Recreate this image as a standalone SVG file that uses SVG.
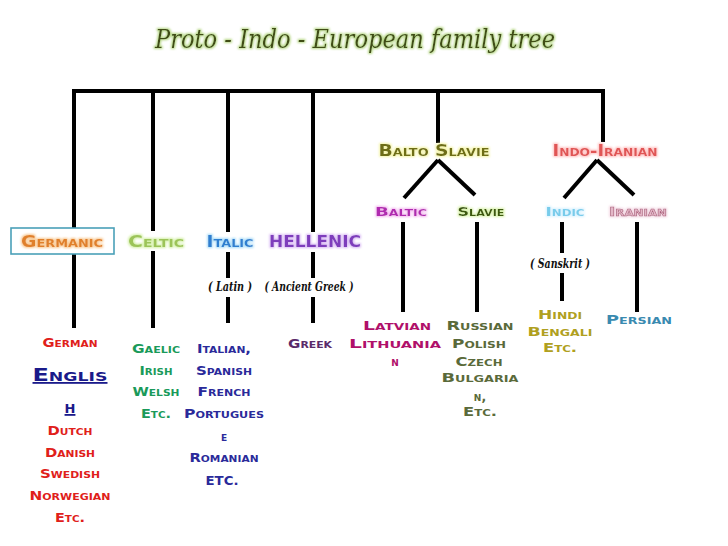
<svg xmlns="http://www.w3.org/2000/svg" width="728" height="546" viewBox="0 0 728 546">
<defs>
<style>
.sc{font-family:"DejaVu Sans","Liberation Sans",sans-serif;font-weight:bold;font-variant:small-caps;text-anchor:middle}
.hd{font-size:16px}
.sm{font-size:13px}
.ls{font-size:12.5px}
.scr{font-family:"DejaVu Serif","Liberation Serif",serif;font-style:italic;font-weight:bold;font-size:12px;text-anchor:middle;fill:#111}
.ln{stroke:#000;stroke-width:4;fill:none;stroke-linecap:butt}
</style>
<filter id="gOr" x="-20%" y="-50%" width="140%" height="200%"><feMorphology in="SourceAlpha" operator="dilate" radius="1"/><feGaussianBlur stdDeviation="1.3" result="b"/><feFlood flood-color="#f8c890"/><feComposite in2="b" operator="in" result="g"/><feMerge><feMergeNode in="g"/><feMergeNode in="SourceGraphic"/></feMerge></filter>
<filter id="gCe" x="-20%" y="-50%" width="140%" height="200%"><feMorphology in="SourceAlpha" operator="dilate" radius="1"/><feGaussianBlur stdDeviation="1.3" result="b"/><feFlood flood-color="#d4f0a8"/><feComposite in2="b" operator="in" result="g"/><feMerge><feMergeNode in="g"/><feMergeNode in="SourceGraphic"/></feMerge></filter>
<filter id="gIt" x="-20%" y="-50%" width="140%" height="200%"><feMorphology in="SourceAlpha" operator="dilate" radius="1"/><feGaussianBlur stdDeviation="1.3" result="b"/><feFlood flood-color="#a8dcf8"/><feComposite in2="b" operator="in" result="g"/><feMerge><feMergeNode in="g"/><feMergeNode in="SourceGraphic"/></feMerge></filter>
<filter id="gHe" x="-20%" y="-50%" width="140%" height="200%"><feMorphology in="SourceAlpha" operator="dilate" radius="1"/><feGaussianBlur stdDeviation="1.3" result="b"/><feFlood flood-color="#d8b8f4"/><feComposite in2="b" operator="in" result="g"/><feMerge><feMergeNode in="g"/><feMergeNode in="SourceGraphic"/></feMerge></filter>
<filter id="gBs" x="-20%" y="-50%" width="140%" height="200%"><feMorphology in="SourceAlpha" operator="dilate" radius="1"/><feGaussianBlur stdDeviation="1.3" result="b"/><feFlood flood-color="#f4f4a8"/><feComposite in2="b" operator="in" result="g"/><feMerge><feMergeNode in="g"/><feMergeNode in="SourceGraphic"/></feMerge></filter>
<filter id="gIi" x="-20%" y="-50%" width="140%" height="200%"><feMorphology in="SourceAlpha" operator="dilate" radius="1"/><feGaussianBlur stdDeviation="1.3" result="b"/><feFlood flood-color="#ffc0c0"/><feComposite in2="b" operator="in" result="g"/><feMerge><feMergeNode in="g"/><feMergeNode in="SourceGraphic"/></feMerge></filter>
<filter id="gBa" x="-20%" y="-50%" width="140%" height="200%"><feMorphology in="SourceAlpha" operator="dilate" radius="1"/><feGaussianBlur stdDeviation="1.3" result="b"/><feFlood flood-color="#f4b8f0"/><feComposite in2="b" operator="in" result="g"/><feMerge><feMergeNode in="g"/><feMergeNode in="SourceGraphic"/></feMerge></filter>
<filter id="gSl" x="-20%" y="-50%" width="140%" height="200%"><feMorphology in="SourceAlpha" operator="dilate" radius="1"/><feGaussianBlur stdDeviation="1.3" result="b"/><feFlood flood-color="#dcf4b0"/><feComposite in2="b" operator="in" result="g"/><feMerge><feMergeNode in="g"/><feMergeNode in="SourceGraphic"/></feMerge></filter>
<filter id="gIn" x="-20%" y="-50%" width="140%" height="200%"><feMorphology in="SourceAlpha" operator="dilate" radius="1"/><feGaussianBlur stdDeviation="1.3" result="b"/><feFlood flood-color="#d8f2ff"/><feComposite in2="b" operator="in" result="g"/><feMerge><feMergeNode in="g"/><feMergeNode in="SourceGraphic"/></feMerge></filter>
<filter id="gIr" x="-20%" y="-50%" width="140%" height="200%"><feMorphology in="SourceAlpha" operator="dilate" radius="1"/><feGaussianBlur stdDeviation="1.3" result="b"/><feFlood flood-color="#f4d8e4"/><feComposite in2="b" operator="in" result="g"/><feMerge><feMergeNode in="g"/><feMergeNode in="SourceGraphic"/></feMerge></filter>
<filter id="tsh" x="-10%" y="-50%" width="120%" height="200%"><feMorphology in="SourceAlpha" operator="dilate" radius="1"/><feGaussianBlur stdDeviation="1" result="b"/><feFlood flood-color="#b8d888"/><feComposite in2="b" operator="in" result="g"/><feMerge><feMergeNode in="g"/><feMergeNode in="SourceGraphic"/></feMerge></filter>
</defs>
<rect width="728" height="546" fill="#fff"/>

<g id="title">
<text x="355" y="48" font-family="DejaVu Serif, Liberation Serif, serif" font-style="italic" font-size="26" fill="#3f4d12" text-anchor="middle" textLength="400" lengthAdjust="spacingAndGlyphs" filter="url(#tsh)">Proto - Indo - European family tree</text>
</g>

<g id="connectors">
<line class="ln" x1="72" y1="91" x2="605" y2="91" stroke-width="5"/>
<line class="ln" x1="74" y1="91" x2="74" y2="228"/>
<line class="ln" x1="74" y1="254" x2="74" y2="328"/>
<line class="ln" x1="153" y1="91" x2="153" y2="231"/>
<line class="ln" x1="153" y1="251" x2="153" y2="328"/>
<line class="ln" x1="228" y1="91" x2="228" y2="232"/>
<line class="ln" x1="228" y1="252" x2="228" y2="278"/>
<line class="ln" x1="228" y1="297" x2="228" y2="323"/>
<line class="ln" x1="313" y1="91" x2="313" y2="232"/>
<line class="ln" x1="313" y1="252" x2="313" y2="278"/>
<line class="ln" x1="313" y1="297" x2="313" y2="323"/>
<line class="ln" x1="438" y1="91" x2="438" y2="143"/>
<line class="ln" x1="438" y1="160" x2="404" y2="198"/>
<line class="ln" x1="438" y1="160" x2="475" y2="195"/>
<line class="ln" x1="403" y1="222" x2="403" y2="312"/>
<line class="ln" x1="477" y1="222" x2="477" y2="312"/>
<line class="ln" x1="603" y1="91" x2="603" y2="142"/>
<line class="ln" x1="597" y1="160" x2="564" y2="198"/>
<line class="ln" x1="597" y1="160" x2="634" y2="195"/>
<line class="ln" x1="562" y1="222" x2="562" y2="253"/>
<line class="ln" x1="562" y1="273" x2="562" y2="301"/>
<line class="ln" x1="637" y1="222" x2="637" y2="312"/>
</g>

<g id="node-germanic">
<rect x="11" y="228" width="103" height="26" fill="#fff" stroke="#4aa0b8" stroke-width="1.6"/>
<text class="sc hd" x="62" y="247" fill="#e0802a" textLength="82" lengthAdjust="spacingAndGlyphs" filter="url(#gOr)">Germanic</text>
</g>
<g id="node-celtic"><text class="sc hd" x="156" y="247" fill="#9cc458" textLength="56" lengthAdjust="spacingAndGlyphs" filter="url(#gCe)">Celtic</text></g>
<g id="node-italic"><text class="sc hd" x="230" y="247" fill="#2f7fd0" textLength="47" lengthAdjust="spacingAndGlyphs" filter="url(#gIt)">Italic</text></g>
<g id="node-hellenic"><text class="sc" x="315" y="247" font-size="15" fill="#7e3cbc" textLength="92" lengthAdjust="spacingAndGlyphs" filter="url(#gHe)">HELLENIC</text></g>
<g id="node-balto-slavie"><text class="sc hd" x="434" y="156" fill="#6e6e16" textLength="111" lengthAdjust="spacingAndGlyphs" filter="url(#gBs)">Balto Slavie</text></g>
<g id="node-indo-iranian"><text class="sc hd" x="605" y="156" fill="#e05454" textLength="105" lengthAdjust="spacingAndGlyphs" filter="url(#gIi)">Indo-Iranian</text></g>
<g id="node-baltic"><text class="sc sm" x="401" y="216" fill="#b02cb0" textLength="52" lengthAdjust="spacingAndGlyphs" filter="url(#gBa)">Baltic</text></g>
<g id="node-slavie"><text class="sc sm" x="481" y="216" fill="#3e5a10" textLength="47" lengthAdjust="spacingAndGlyphs" filter="url(#gSl)">Slavie</text></g>
<g id="node-indic"><text class="sc sm" x="565" y="216" fill="#78cceb" textLength="39" lengthAdjust="spacingAndGlyphs" filter="url(#gIn)">Indic</text></g>
<g id="node-iranian"><text class="sc sm" x="638" y="216" fill="#e4b8c8" stroke="#a85c78" stroke-width="0.5" textLength="58" lengthAdjust="spacingAndGlyphs" filter="url(#gIr)">Iranian</text></g>

<g id="note-latin"><text class="scr" x="230" y="291" textLength="44" lengthAdjust="spacingAndGlyphs">( Latin )</text></g>
<g id="note-ancient-greek"><text class="scr" x="309" y="291" textLength="89" lengthAdjust="spacingAndGlyphs">( Ancient Greek )</text></g>
<g id="note-sanskrit"><text class="scr" x="560" y="268" textLength="60" lengthAdjust="spacingAndGlyphs">( Sanskrit )</text></g>

<g id="list-germanic" fill="#e0201a">
<text class="sc ls" x="70" y="347" textLength="55" lengthAdjust="spacingAndGlyphs">German</text>
<text class="sc" x="70" y="381" font-size="18" fill="#1a1a8a" text-decoration="underline" textLength="75" lengthAdjust="spacingAndGlyphs">Englis</text>
<text class="sc" x="70" y="413" font-size="18" fill="#1a1a8a" text-decoration="underline">h</text>
<text class="sc ls" x="70" y="435" textLength="45" lengthAdjust="spacingAndGlyphs">Dutch</text>
<text class="sc ls" x="70" y="457" textLength="50" lengthAdjust="spacingAndGlyphs">Danish</text>
<text class="sc ls" x="70" y="478" textLength="60" lengthAdjust="spacingAndGlyphs">Swedish</text>
<text class="sc ls" x="70" y="500" textLength="81" lengthAdjust="spacingAndGlyphs">Norwegian</text>
<text class="sc ls" x="70" y="522" textLength="30" lengthAdjust="spacingAndGlyphs">Etc.</text>
</g>
<g id="list-celtic" fill="#1a9a5a">
<text class="sc ls" x="156" y="353" textLength="48" lengthAdjust="spacingAndGlyphs">Gaelic</text>
<text class="sc ls" x="156" y="375" textLength="33" lengthAdjust="spacingAndGlyphs">Irish</text>
<text class="sc ls" x="156" y="396" textLength="47" lengthAdjust="spacingAndGlyphs">Welsh</text>
<text class="sc ls" x="156" y="418" textLength="30" lengthAdjust="spacingAndGlyphs">Etc.</text>
</g>
<g id="list-italic" fill="#2a2a9a">
<text class="sc ls" x="224" y="353" textLength="54" lengthAdjust="spacingAndGlyphs">Italian,</text>
<text class="sc ls" x="224" y="375" textLength="56" lengthAdjust="spacingAndGlyphs">Spanish</text>
<text class="sc ls" x="224" y="396" textLength="53" lengthAdjust="spacingAndGlyphs">French</text>
<text class="sc ls" x="224" y="418" textLength="80" lengthAdjust="spacingAndGlyphs">Portugues</text>
<text class="sc ls" x="224" y="441">e</text>
<text class="sc ls" x="224" y="462" textLength="69" lengthAdjust="spacingAndGlyphs">Romanian</text>
<text class="sc ls" x="222" y="485" textLength="33" lengthAdjust="spacingAndGlyphs">ETC.</text>
</g>
<g id="list-hellenic" fill="#5a2a6a">
<text class="sc ls" x="310" y="348" textLength="44" lengthAdjust="spacingAndGlyphs">Greek</text>
</g>
<g id="list-baltic" fill="#b0106a">
<text class="sc ls" x="397" y="330" textLength="68" lengthAdjust="spacingAndGlyphs">Latvian</text>
<text class="sc ls" x="395" y="348" textLength="92" lengthAdjust="spacingAndGlyphs">Lithuania</text>
<text class="sc ls" x="395" y="366">n</text>
</g>
<g id="list-slavie" fill="#5a6a3a">
<text class="sc ls" x="480" y="330" textLength="67" lengthAdjust="spacingAndGlyphs">Russian</text>
<text class="sc ls" x="479" y="348" textLength="54" lengthAdjust="spacingAndGlyphs">Polish</text>
<text class="sc ls" x="479" y="366" textLength="47" lengthAdjust="spacingAndGlyphs">Czech</text>
<text class="sc ls" x="480" y="382" textLength="77" lengthAdjust="spacingAndGlyphs">Bulgaria</text>
<text class="sc ls" x="480" y="401">n,</text>
<text class="sc ls" x="480" y="416" textLength="34" lengthAdjust="spacingAndGlyphs">Etc.</text>
</g>
<g id="list-indic" fill="#b0a020">
<text class="sc ls" x="560" y="319" textLength="44" lengthAdjust="spacingAndGlyphs">Hindi</text>
<text class="sc ls" x="560" y="336" textLength="65" lengthAdjust="spacingAndGlyphs">Bengali</text>
<text class="sc ls" x="560" y="352" textLength="34" lengthAdjust="spacingAndGlyphs">Etc.</text>
</g>
<g id="list-iranian" fill="#3a8ab0">
<text class="sc ls" x="639" y="324" textLength="66" lengthAdjust="spacingAndGlyphs">Persian</text>
</g>
</svg>
